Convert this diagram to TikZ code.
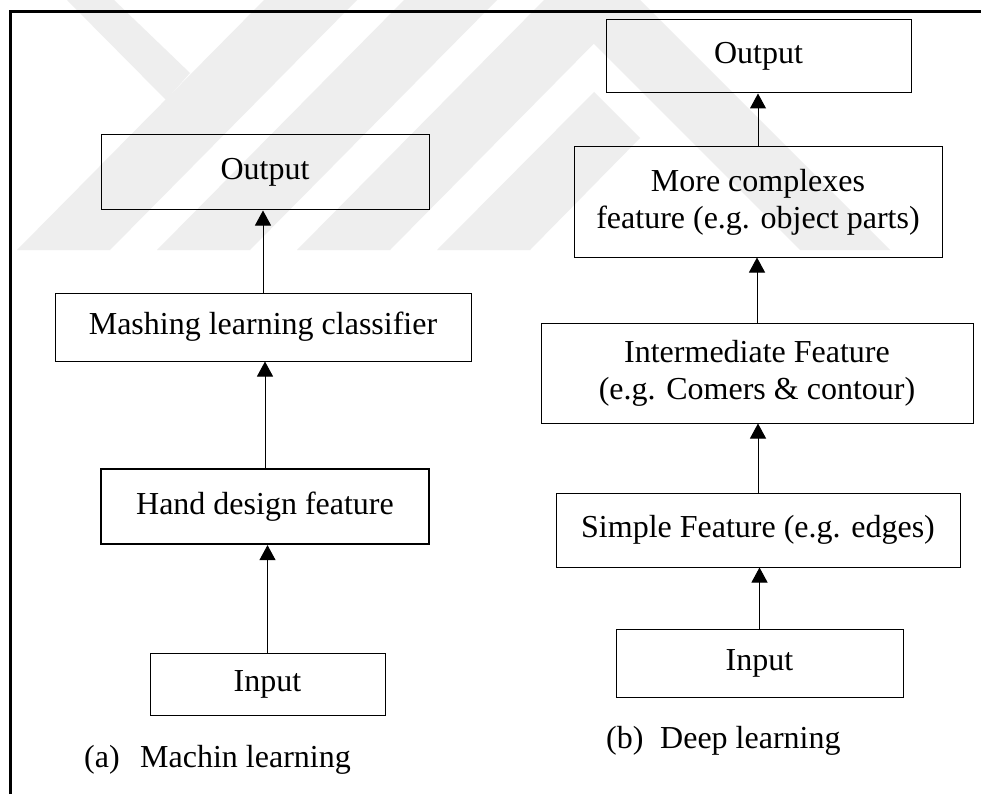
\documentclass[tikz,border=0pt]{standalone}
\usepackage{fontspec}
\setmainfont{Liberation Serif}
\usetikzlibrary{arrows.meta}
\definecolor{markgray}{HTML}{EEEEEE}
\begin{document}
\begin{tikzpicture}[x=1pt,y=-1pt,
  box/.style={draw=black, line width=1pt, rectangle, inner sep=0pt, align=center,
    fill=white, font=\fontsize{32}{37}\selectfont},
  heavybox/.style={box, line width=2.2pt},
  arr/.style={line width=1pt, -{Triangle[width=16pt,length=15pt]}},
  caption/.style={anchor=base west, inner sep=0pt, font=\fontsize{32}{37}\selectfont},
  band/.style={fill=markgray, draw=none}]
\useasboundingbox (0,0) rectangle (981,794);
\fill[white] (0,0) rectangle (981,794);

% faint background emblem made of diagonal strokes
\begin{scope}
  \clip (0,0) rectangle (981,250);
  \fill[band] (17,250) -- (110,250) -- (357,0) -- (264,0) -- cycle;
  \fill[band] (67,0) -- (114,0) -- (190,73) -- (166,100) -- cycle;
  \fill[band] (157,250) -- (250,250) -- (497,0) -- (404,0) -- cycle;
  \fill[band] (297,250) -- (390,250) -- (637,0) -- (544,0) -- cycle;
  \fill[band] (437,250) -- (530,250) -- (640,138) -- (594,92) -- cycle;
  \fill[band] (550,0) -- (640,0) -- (890,250) -- (800,250) -- cycle;
\end{scope}

% outer frame (left and top edges)
\draw[line width=3pt] (10,794) -- (10,12) -- (981,12);

% (a) machine learning pipeline
\node[box, fill=none, minimum width=328pt, minimum height=75pt] (lout) at (265,172.5) {Output};
\node[box, fill=none, minimum width=416pt, minimum height=68pt] (lcls) at (263,327) {Mashing learning classifier};
\node[heavybox, minimum width=328pt, minimum height=75pt] (lhand) at (265,506.5) {Hand design feature};
\node[box, minimum width=235pt, minimum height=62pt] (lin) at (267.5,684) {Input};
\draw[arr] (lcls.north) -- (lcls.north |- lout.south);
\draw[arr] (lhand.north) -- (lhand.north |- lcls.south);
\draw[arr] (lin.north) -- (lin.north |- lhand.south);
\node[caption] (capa) at (84,767) {(a)};
\node[caption] (capatext) at (140,767) {Machin learning};

% (b) deep learning pipeline
\node[box, fill=none, minimum width=305pt, minimum height=73pt] (rout) at (758.5,56.5) {Output};
\node[box, fill=none, minimum width=368pt, minimum height=110pt] (rcomp) at (758,202) {More complexes\\feature (e.g. object parts)};
\node[box, minimum width=432pt, minimum height=100pt] (rint) at (757,373) {Intermediate Feature\\(e.g. Comers \& contour)};
\node[box, minimum width=404pt, minimum height=74pt] (rsimp) at (758,530) {Simple Feature (e.g. edges)};
\node[box, minimum width=287pt, minimum height=68pt] (rin) at (759.5,663) {Input};
\draw[arr] (rcomp.north) -- (rcomp.north |- rout.south);
\draw[arr] (rint.north) -- (rint.north |- rcomp.south);
\draw[arr] (rsimp.north) -- (rsimp.north |- rint.south);
\draw[arr] (rin.north) -- (rin.north |- rsimp.south);
\node[caption] (capb) at (606,748) {(b)};
\node[caption] (capbtext) at (660,748) {Deep learning};
\end{tikzpicture}
\end{document}
